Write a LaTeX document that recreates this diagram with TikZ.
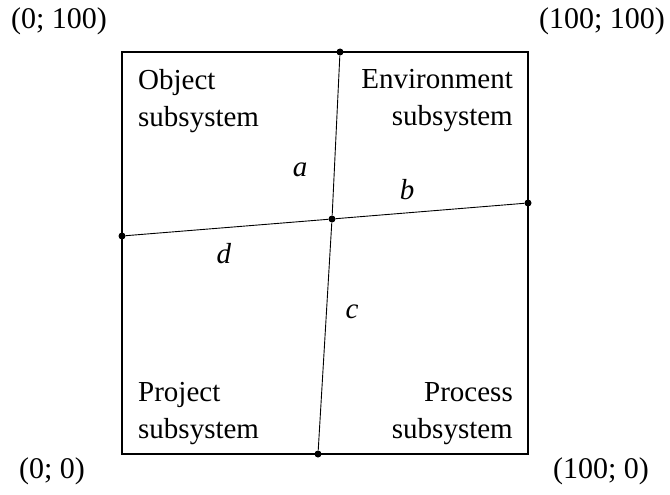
\documentclass[tikz,border=0pt]{standalone}
\usepackage{fontspec}
\setmainfont{Liberation Serif}

\begin{document}
\begin{tikzpicture}[x=1pt,y=-1pt,font=\fontsize{29}{37}\selectfont,
  dot/.style={circle,fill,inner sep=0pt,minimum size=7pt},
  subleft/.style={align=left,inner sep=0pt,anchor=north west},
  subright/.style={align=right,inner sep=0pt,anchor=north east},
  corner/.style={font=\fontsize{30}{36}\selectfont},
  split/.style={line width=.9pt}]
  \useasboundingbox (0,0) rectangle (670,495);
  % square
  \draw[line width=2pt] (122,52) rectangle (528,454);
  \node[dot] (top) at (340,52) {};
  \node[dot] (bottom) at (318,454) {};
  \node[dot] (left) at (122,236) {};
  \node[dot] (right) at (528,203) {};
  \node[dot] (mid) at (332,219) {};
  \draw[split] (top) -- (mid) -- (bottom);
  \draw[split] (left) -- (mid) -- (right);
  % subsystems
  \node[subleft] (object) at (138,69) {Object\\subsystem};
  \node[subright] (environment) at (513,69) {Environment\\subsystem};
  \node[subleft] (project) at (138,382) {Project\\subsystem};
  \node[subright] (process) at (513,382) {Process\\subsystem};
  % segments
  \node (a) at (300,170) {\textit{a}};
  \node (b) at (407,190) {\textit{b}};
  \node (c) at (352,312) {\textit{c}};
  \node (d) at (224,254) {\textit{d}};
  % corners
  \node[corner] (c01) at (59,21) {(0; 100)};
  \node[corner] (c11) at (602,21) {(100; 100)};
  \node[corner] (c00) at (52,471) {(0; 0)};
  \node[corner] (c10) at (601,471) {(100; 0)};
\end{tikzpicture}
\end{document}
